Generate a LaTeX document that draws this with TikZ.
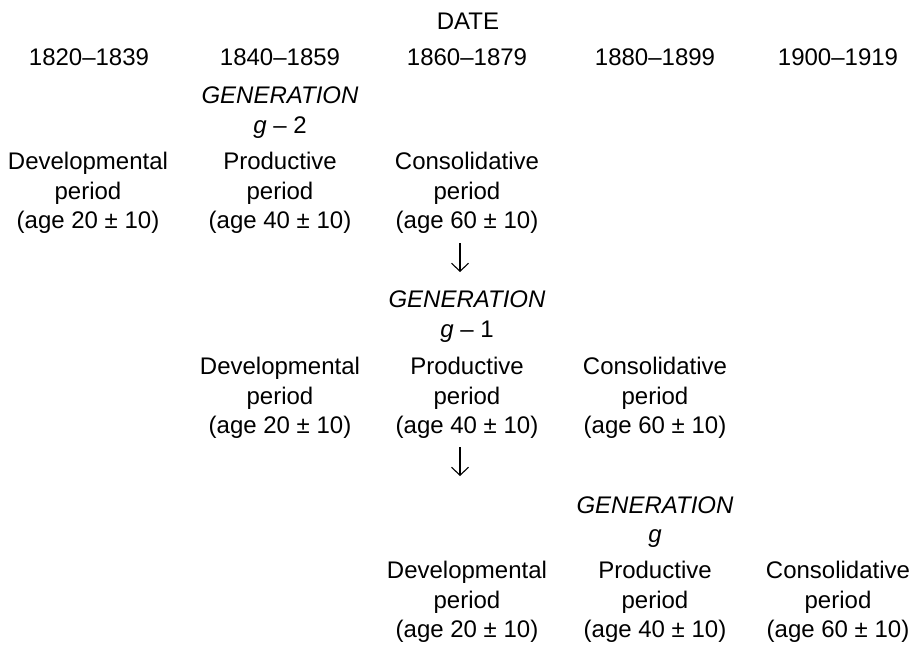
\documentclass[tikz,border=0pt]{standalone}
\usepackage{fontspec}
\setmainfont{Liberation Sans}
\usetikzlibrary{arrows.meta}
\begin{document}
\begin{tikzpicture}[x=1pt,y=-1pt,
  txt/.style={anchor=base,inner sep=0pt,font=\fontsize{24}{28}\selectfont},
  gen/.style={txt,font=\fontsize{24}{28}\selectfont\itshape},
  arr/.style={line width=1.1pt,-{Straight Barb[length=8pt,width=17pt,line width=1.1pt]}}]
\useasboundingbox (0,0) rectangle (911,645);
% header
\node[txt] (date) at (468,29) {DATE};
\node[txt] (y1) at (89,65) {1820–1839};
\node[txt] (y2) at (280,65) {1840–1859};
\node[txt] (y3) at (467,65) {1860–1879};
\node[txt] (y4) at (655,65) {1880–1899};
\node[txt] (y5) at (838,65) {1900–1919};
% generation g-2
\node[gen] (g2a) at (280,103) {GENERATION};
\node[txt] (g2b) at (280,133) {\textit{g} – 2};
\foreach \x/\n/\w/\a in {88/a/Developmental/20, 280/b/Productive/40, 467/c/Consolidative/60}{
  \node[txt] (r1\n1) at (\x,169) {\w};
  \node[txt] (r1\n2) at (\x,199) {period};
  \node[txt] (r1\n3) at (\x,228) {(age \a\ ± 10)};
}
\coordinate (a1s) at (460,243);
\coordinate (a1e) at (460,272);
\draw[arr] (a1s) -- (a1e);
% generation g-1
\node[gen] (g1a) at (467,307) {GENERATION};
\node[txt] (g1b) at (467,337) {\textit{g} – 1};
\foreach \x/\n/\w/\a in {280/a/Developmental/20, 467/b/Productive/40, 655/c/Consolidative/60}{
  \node[txt] (r2\n1) at (\x,374) {\w};
  \node[txt] (r2\n2) at (\x,404) {period};
  \node[txt] (r2\n3) at (\x,433) {(age \a\ ± 10)};
}
\coordinate (a2s) at (460,447);
\coordinate (a2e) at (460,476);
\draw[arr] (a2s) -- (a2e);
% generation g
\node[gen] (g0a) at (655,513) {GENERATION};
\node[gen] (g0b) at (655,542) {g};
\foreach \x/\n/\w/\a in {467/a/Developmental/20, 655/b/Productive/40, 838/c/Consolidative/60}{
  \node[txt] (r3\n1) at (\x,578) {\w};
  \node[txt] (r3\n2) at (\x,608) {period};
  \node[txt] (r3\n3) at (\x,637) {(age \a\ ± 10)};
}
\end{tikzpicture}
\end{document}
